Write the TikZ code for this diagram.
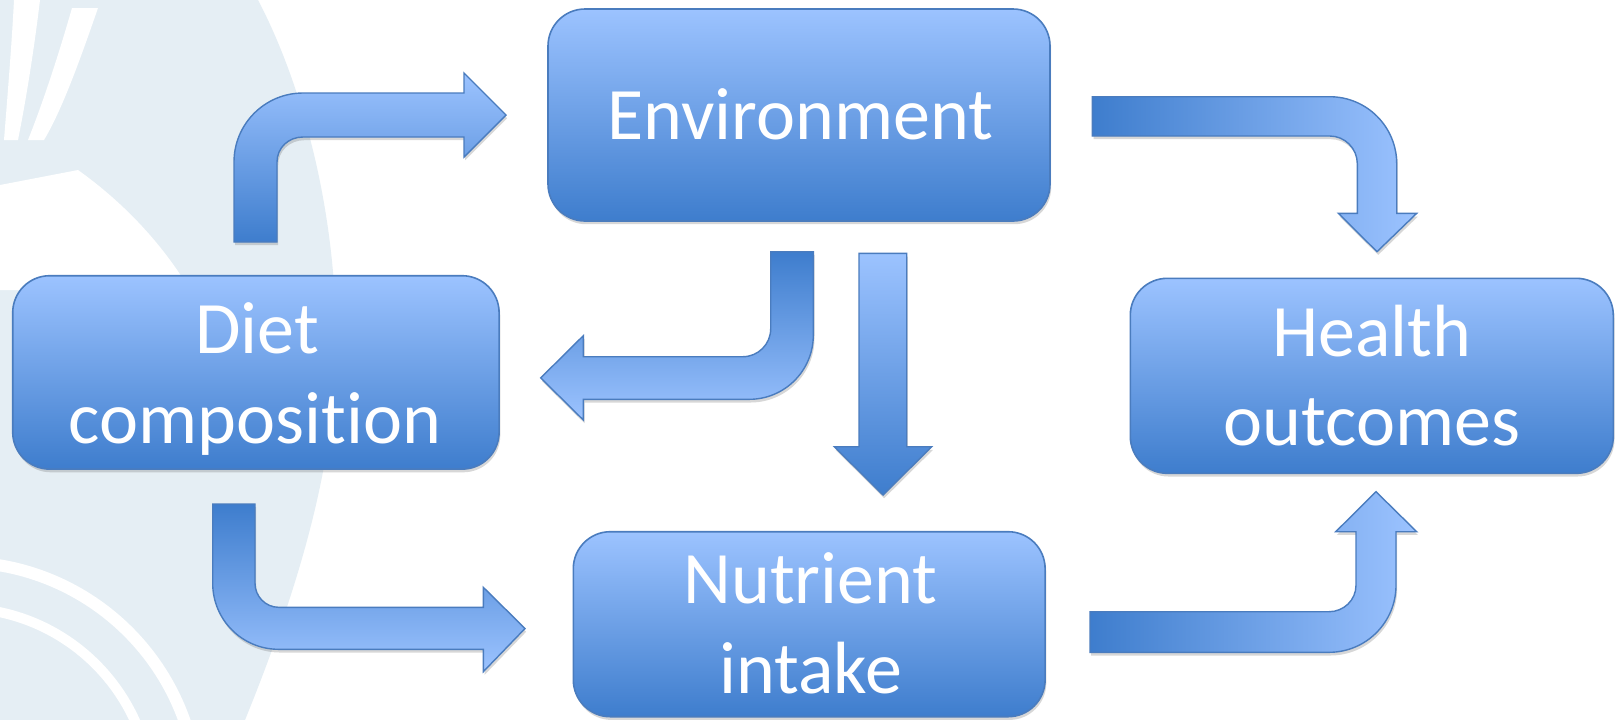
\documentclass[tikz,border=0pt]{standalone}
\usepackage{fontspec}
\setmainfont{Carlito}[Ligatures=NoCommon]
\usetikzlibrary{shadows}
\definecolor{lightb}{RGB}{156,195,255}
\definecolor{darkb}{RGB}{62,125,205}
\definecolor{edgeb}{RGB}{74,124,190}
\definecolor{wm}{RGB}{229,238,244}
\tikzset{
  x=0.5pt, y=-0.5pt,
  softshadow/.style={drop shadow={shadow xshift=0.6pt, shadow yshift=-1.6pt, opacity=0.22, fill=black!70}},
  box/.style={draw=edgeb, line width=0.8pt, rounded corners=18.5pt, top color=lightb, bottom color=darkb, softshadow, inner sep=0pt},
  lbl/.style={text=white, font=\fontsize{37pt}{45pt}\selectfont, inner sep=0pt, anchor=base},
  barrow/.style={draw=edgeb, line width=0.7pt, softshadow},
  vlight/.style={barrow, top color=lightb, bottom color=darkb},
  vdark/.style={barrow, top color=darkb, bottom color=lightb},
  hdark/.style={barrow, left color=darkb, right color=lightb},
}
\begin{document}
\begin{tikzpicture}
\useasboundingbox (0,0) rectangle (1615,720);
\fill[white] (0,0) rectangle (1615,720);
% faint watermark
\begin{scope}
\clip (0,0) -- (258,0) .. controls (300,80) and (334,200) .. (336,330) .. controls (338,440) and (310,560) .. (245,720) -- (0,720) -- cycle;
\fill[wm] (0,0) rectangle (340,720);
\fill[white] (14,0) -- (40,0) .. controls (34,50) and (26,100) .. (18,140) -- (4,140) .. controls (8,90) and (12,40) .. cycle;
\fill[white] (72,8) -- (98,8) .. controls (80,60) and (62,110) .. (44,140) -- (28,140) .. controls (44,100) and (60,50) .. cycle;
\fill[white] (0,185) -- (78,170) .. controls (120,200) and (160,240) .. (190,290) -- (0,290) -- cycle;
\draw[white, line width=6pt] (-40,800) circle (238);
\draw[white, line width=5pt] (-40,800) circle (192);
\foreach \a in {22,40,58,76} \draw[white, line width=7pt] (-40,800) -- ++(\a:-170pt);
\end{scope}
% boxes
\node[box, minimum width=251pt, minimum height=106pt] (env) at (799,115) {};
\node[box, minimum width=243.2pt, minimum height=96.7pt] (diet) at (255.9,372.4) {};
\node[box, minimum width=235.9pt, minimum height=92.5pt] (nut) at (809.2,624.2) {};
\node[box, minimum width=241.5pt, minimum height=97.5pt] (health) at (1371.8,375.8) {};
% labels
\node[lbl] (envt) at (800.5,139.3) {Environment};
\node[lbl] (dieta) at (257,353.3) {Diet};
\node[lbl] (dietb) at (255,443.3) {composition};
\node[lbl] (nuta) at (810.5,603.3) {Nutrient};
\node[lbl] (nutb) at (810.5,693.3) {intake};
\node[lbl] (healtha) at (1372,356.7) {Health};
\node[lbl] (healthb) at (1372,445) {outcomes};
% arrow Diet -> Environment
\path[vlight] (234,242) -- (234,162) .. controls (234,123.9) and (264.9,93) .. (303,93) -- (464,93) -- (464,73) -- (506,115) -- (464,157) -- (464,137) -- (303,137) .. controls (288.6,137) and (277,147.6) .. (277,162) -- (277,242) -- cycle;
% arrow Environment -> Diet
\path[vdark] (770.7,251.7) -- (813.3,251.7) -- (813.3,335.3) .. controls (813.3,370.6) and (784.6,399.3) .. (749.3,399.3) -- (583.3,399.3) -- (583.3,420) -- (540.7,377.9) -- (583.3,335.7) -- (583.3,356.7) -- (742.7,356.7) .. controls (758.2,356.7) and (770.7,344.2) .. (770.7,328.7) -- cycle;
% arrow Environment -> Nutrient
\path[vlight] (859,253.3) -- (906.7,253.3) -- (906.7,446.7) -- (931.7,446.7) -- (883,495) -- (834.3,446.7) -- (859,446.7) -- cycle;
% arrow Environment -> Health
\path[hdark] (1092.3,96.7) -- (1329.7,96.7) .. controls (1366.7,96.7) and (1396.7,126.7) .. (1396.7,163.7) -- (1396.7,213.3) -- (1416.7,213.3) -- (1377,251.7) -- (1338.3,213.3) -- (1357.3,213.3) -- (1357.3,163.7) .. controls (1357.3,148.5) and (1344.9,136) .. (1329.7,136) -- (1092.3,136) -- cycle;
% arrow Nutrient -> Health
\path[hdark] (1090,611.7) -- (1329,611.7) .. controls (1343.7,611.7) and (1356,600) .. (1356,585.3) -- (1356,531.7) -- (1335.7,531.7) -- (1376,491.7) -- (1416.7,531.7) -- (1396,531.7) -- (1396,585.3) .. controls (1396,622.3) and (1366,652.3) .. (1329,652.3) -- (1090,652.3) -- cycle;
% arrow Diet -> Nutrient
\path[vdark] (212.7,504) -- (255,504) -- (255,583.3) .. controls (255,596.4) and (265.6,607.3) .. (278.7,607.3) -- (483.3,607.3) -- (483.3,587.3) -- (525,628.5) -- (483.3,671.7) -- (483.3,649.3) -- (278.7,649.3) .. controls (242.2,649.3) and (212.7,619.8) .. (212.7,583.3) -- cycle;
\end{tikzpicture}
\end{document}
